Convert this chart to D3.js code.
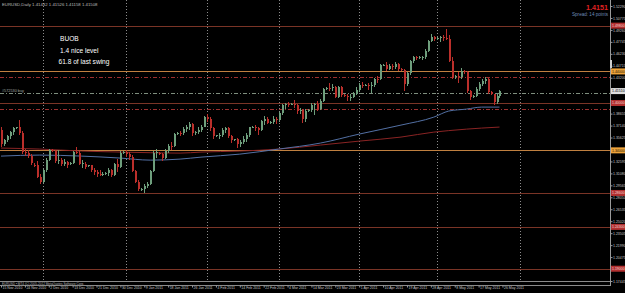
<!DOCTYPE html>
<html><head><meta charset="utf-8">
<script src="https://cdn.jsdelivr.net/npm/d3@7"></script>
<style>html,body{margin:0;padding:0;background:#000;overflow:hidden}svg{display:block}</style>
</head><body>
<svg id="c" width="625" height="293"></svg>
<script>
// ---- data (EURUSD daily) ----
const openP = [
1.3655,1.3480,1.3530,1.3580,1.3630,1.3680,1.3690,1.3620,1.3380,1.3370,
1.3330,1.3220,1.3210,1.3060,1.3000,1.3150,1.3280,1.3410,1.3390,1.3260,
1.3280,1.3230,1.3250,1.3230,1.3240,1.3380,1.3370,1.3230,1.3230,1.3200,
1.3210,1.3150,1.3120,1.3100,1.3090,1.3100,1.3110,1.3150,1.3090,1.3230,
1.3190,1.3370,1.3380,1.3360,1.3320,1.3140,1.3000,1.2900,1.2910,1.2950,
1.2970,1.3140,1.3370,1.3370,1.3350,1.3300,1.3390,1.3460,1.3455,1.3610,
1.3620,1.3615,1.3670,1.3690,1.3740,1.3620,1.3630,1.3660,1.3700,1.3820,
1.3800,1.3680,1.3580,1.3590,1.3595,1.3660,1.3680,1.3580,1.3530,1.3540,
1.3480,1.3500,1.3550,1.3590,1.3690,1.3700,1.3680,1.3660,1.3770,1.3800,
1.3750,1.3760,1.3800,1.3780,1.3870,1.3980,1.3990,1.3975,1.3985,1.3970,
1.3900,1.3910,1.3800,1.3900,1.3910,1.3980,1.3990,1.3920,1.4030,1.4180,
1.4190,1.4185,1.4200,1.4080,1.4200,1.4100,1.4090,1.4070,1.4080,1.4120,
1.4160,1.4230,1.4215,1.4230,1.4220,1.4225,1.4310,1.4300,1.4480,1.4485,
1.4430,1.4470,1.4450,1.4500,1.4430,1.4420,1.4240,1.4380,1.4530,1.4580,
1.4570,1.4580,1.4585,1.4660,1.4790,1.4830,1.4810,1.4820,1.4835,1.4825,
1.4815,1.4530,1.4330,1.4340,1.4335,1.4410,1.4390,1.4150,1.4070,1.4090,
1.4180,1.4240,1.4280,1.4300,1.4140,1.4110,1.4010,1.4090];
const highP = [
1.3690,1.3545,1.3600,1.3650,1.3700,1.3700,1.3785,1.3640,1.3420,1.3400,
1.3350,1.3240,1.3260,1.3100,1.3160,1.3300,1.3420,1.3420,1.3400,1.3400,
1.3300,1.3290,1.3270,1.3250,1.3390,1.3440,1.3390,1.3280,1.3250,1.3220,
1.3220,1.3180,1.3150,1.3150,1.3120,1.3120,1.3170,1.3160,1.3240,1.3290,
1.3390,1.3390,1.3400,1.3380,1.3340,1.3150,1.3030,1.2920,1.2970,1.3000,
1.3150,1.3390,1.3420,1.3380,1.3370,1.3420,1.3480,1.3500,1.3620,1.3630,
1.3650,1.3690,1.3720,1.3760,1.3750,1.3640,1.3690,1.3720,1.3840,1.3860,
1.3820,1.3690,1.3600,1.3620,1.3680,1.3700,1.3690,1.3600,1.3550,1.3560,
1.3530,1.3580,1.3620,1.3700,1.3710,1.3720,1.3700,1.3790,1.3830,1.3820,
1.3770,1.3830,1.3820,1.3890,1.3990,1.4000,1.4010,1.3995,1.4035,1.3990,
1.3940,1.3920,1.3920,1.3920,1.4000,1.4000,1.4030,1.4050,1.4190,1.4200,
1.4250,1.4240,1.4220,1.4210,1.4210,1.4110,1.4110,1.4110,1.4140,1.4200,
1.4250,1.4260,1.4240,1.4250,1.4260,1.4320,1.4340,1.4490,1.4490,1.4520,
1.4500,1.4490,1.4520,1.4510,1.4440,1.4430,1.4390,1.4540,1.4600,1.4600,
1.4590,1.4600,1.4680,1.4800,1.4880,1.4850,1.4830,1.4850,1.4860,1.4940,
1.4860,1.4580,1.4350,1.4390,1.4440,1.4420,1.4400,1.4170,1.4100,1.4200,
1.4260,1.4300,1.4330,1.4320,1.4150,1.4120,1.4110,1.4170];
const lowP = [
1.3440,1.3450,1.3500,1.3550,1.3600,1.3670,1.3590,1.3360,1.3330,1.3300,
1.3220,1.3190,1.3050,1.2968,1.2990,1.3130,1.3260,1.3380,1.3240,1.3230,
1.3200,1.3200,1.3180,1.3220,1.3230,1.3360,1.3210,1.3180,1.3160,1.3190,
1.3120,1.3090,1.3060,1.3070,1.3070,1.3090,1.3080,1.3060,1.3080,1.3130,
1.3180,1.3360,1.3320,1.3280,1.3120,1.2990,1.2880,1.2890,1.2860,1.2920,
1.2960,1.3120,1.3300,1.3340,1.3260,1.3290,1.3370,1.3400,1.3440,1.3600,
1.3580,1.3600,1.3630,1.3660,1.3580,1.3600,1.3610,1.3630,1.3690,1.3760,
1.3650,1.3540,1.3570,1.3540,1.3570,1.3620,1.3560,1.3490,1.3520,1.3430,
1.3440,1.3480,1.3510,1.3570,1.3680,1.3640,1.3600,1.3640,1.3720,1.3730,
1.3740,1.3740,1.3740,1.3760,1.3850,1.3930,1.3950,1.3970,1.3940,1.3860,
1.3860,1.3750,1.3760,1.3890,1.3880,1.3850,1.3900,1.3910,1.4010,1.4170,
1.4150,1.4150,1.4060,1.4060,1.4080,1.4080,1.4030,1.4030,1.4060,1.4100,
1.4140,1.4190,1.4210,1.4160,1.4130,1.4200,1.4250,1.4290,1.4470,1.4410,
1.4420,1.4420,1.4430,1.4410,1.4410,1.4150,1.4220,1.4360,1.4510,1.4540,
1.4560,1.4540,1.4560,1.4640,1.4770,1.4780,1.4800,1.4770,1.4790,1.4800,
1.4520,1.4310,1.4310,1.4250,1.4310,1.4370,1.4130,1.4040,1.4060,1.4080,
1.4150,1.4210,1.4240,1.4120,1.4100,1.3980,1.3990,1.4060];
const closeP = [
1.3480,1.3530,1.3580,1.3630,1.3680,1.3690,1.3620,1.3380,1.3370,1.3330,
1.3240,1.3210,1.3060,1.3000,1.3150,1.3280,1.3400,1.3390,1.3260,1.3280,
1.3230,1.3250,1.3220,1.3240,1.3380,1.3370,1.3230,1.3235,1.3190,1.3210,
1.3150,1.3120,1.3100,1.3090,1.3100,1.3110,1.3150,1.3090,1.3230,1.3190,
1.3370,1.3380,1.3360,1.3320,1.3140,1.3000,1.2910,1.2910,1.2950,1.2970,
1.3140,1.3370,1.3380,1.3350,1.3300,1.3390,1.3460,1.3455,1.3610,1.3620,
1.3615,1.3670,1.3690,1.3740,1.3620,1.3630,1.3660,1.3700,1.3820,1.3800,
1.3680,1.3580,1.3590,1.3595,1.3660,1.3680,1.3580,1.3530,1.3540,1.3480,
1.3500,1.3550,1.3590,1.3690,1.3700,1.3680,1.3660,1.3770,1.3800,1.3750,
1.3760,1.3800,1.3780,1.3870,1.3980,1.3990,1.3975,1.3985,1.3970,1.3900,
1.3910,1.3800,1.3900,1.3910,1.3980,1.3990,1.3920,1.4030,1.4180,1.4190,
1.4185,1.4200,1.4080,1.4200,1.4100,1.4090,1.4070,1.4080,1.4120,1.4160,
1.4230,1.4215,1.4230,1.4220,1.4225,1.4310,1.4300,1.4480,1.4485,1.4430,
1.4470,1.4450,1.4500,1.4430,1.4420,1.4240,1.4380,1.4530,1.4580,1.4570,
1.4580,1.4585,1.4660,1.4790,1.4830,1.4810,1.4820,1.4835,1.4825,1.4815,
1.4530,1.4330,1.4340,1.4335,1.4410,1.4390,1.4150,1.4070,1.4090,1.4180,
1.4240,1.4280,1.4300,1.4140,1.4110,1.4010,1.4090,1.4151];

// moving averages sampled at these bars
const maBars = [0,13,27,40,50,60,67,80,93,107,120,134,145,150,156,161,167];
const maBlue = [1.3327,1.3340,1.3327,1.3302,1.3276,1.3289,1.3314,1.3352,1.3416,1.3492,1.3606,1.3720,1.3821,1.3898,1.3923,1.3948,1.3948];
const maRed  = [1.3429,1.3416,1.3391,1.3378,1.3370,1.3365,1.3378,1.3391,1.3416,1.3467,1.3517,1.3568,1.3631,1.3650,1.3669,1.3682,1.3695];

const priceTicks = [1.52290,1.50775,1.49260,1.47745,1.46230,1.44715,1.43200,1.41685,1.40170,1.38655,1.37140,1.35625,
  1.34110,1.32595,1.31080,1.29565,1.28050,1.26535,1.25020,1.23505,1.21990,1.20475,1.18960,1.17445];
const dateTickBars = [0,8,16,24,32,40,48,56,64,72,80,88,96,104,112,120,128,136,144,152,160,168];
const dateTickLabels = ["15 Nov 2010","24 Nov 2010","2 Dec 2010","13 Dec 2010","21 Dec 2010","30 Dec 2010","9 Jan 2011",
  "18 Jan 2011","26 Jan 2011","4 Feb 2011","14 Feb 2011","22 Feb 2011","4 Mar 2011","14 Mar 2011","23 Mar 2011",
  "1 Apr 2011","10 Apr 2011","19 Apr 2011","28 Apr 2011","8 May 2011","17 May 2011","26 May 2011"];
const monthStartBars = [14,42,69,93,120,146,174];

const levelPrices = [1.4980,1.4400,1.4330,1.4130,1.4000,1.3930,1.3400,1.2860,1.2430,1.1900];
const levelTypes  = ["sr","fibo","dash","order","sr","dash","fibo","sr","sr","sr"];
const lastPrice = 1.4151;
const spreadPoints = 14;
const headerText = "EURUSD,Daily  1.41432 1.41526 1.41158 1.41508";
const orderText = "#572530 buy";
const notes = ["BUOB","1.4 nice level","61.8 of last swing"];
const footerText = "EURUSD • MT4  (C) 2005-2012 MetaQuotes Software Corp.";

// ---- drawing ----
const W = 625, H = 293, plotR = 610, plotB = 281;
const svg = d3.select("#c");
svg.append("rect").attr("width",W).attr("height",H).attr("fill","#000");

const x = d3.scaleLinear().domain([0,168]).range([1, 1 + 168*2.985]);
const y = d3.scaleLinear().domain([1.17445,1.52290]).range([281,6]);

const font = "'Liberation Sans', Arial, sans-serif";
const plot = svg.append("g");

// month grid
plot.selectAll("line.grid").data(monthStartBars).join("line")
  .attr("x1",d=>Math.round(x(d))+0.5).attr("x2",d=>Math.round(x(d))+0.5)
  .attr("y1",0).attr("y2",plotB)
  .attr("stroke","#8c8c8c").attr("stroke-width",1).attr("stroke-dasharray","1,2");

// horizontal levels
const levelStyle = {
  sr:   {c:"#7a3426", dash:null},
  fibo: {c:"#c08040", dash:null},
  dash: {c:"#9c3030", dash:"4,2,1,2"},
  order:{c:"#7e8e7e", dash:"4,2,1,2"}
};
plot.selectAll("line.lvl").data(levelPrices).join("line")
  .attr("x1",0).attr("x2",plotR)
  .attr("y1",d=>Math.round(y(d))+0.5).attr("y2",d=>Math.round(y(d))+0.5)
  .attr("stroke",(d,i)=>levelStyle[levelTypes[i]].c)
  .attr("stroke-width",1)
  .attr("stroke-dasharray",(d,i)=>levelStyle[levelTypes[i]].dash);

// moving averages
const maLine = d3.line().x((d,i)=>x(maBars[i])).y(d=>y(d)).curve(d3.curveMonotoneX);
plot.append("path").attr("d",maLine(maRed)).attr("fill","none").attr("stroke","#8a2424").attr("stroke-width",1);
plot.append("path").attr("d",maLine(maBlue)).attr("fill","none").attr("stroke","#5370a4").attr("stroke-width",1);

// candles
const bull = "#6e9e7c", bear = "#bb2f2b";
const idx = d3.range(openP.length);
const cg = plot.append("g").attr("shape-rendering","crispEdges");
cg.selectAll("line.w").data(idx).join("line")
  .attr("x1",i=>Math.round(x(i))+0.5).attr("x2",i=>Math.round(x(i))+0.5)
  .attr("y1",i=>y(highP[i])).attr("y2",i=>y(lowP[i]))
  .attr("stroke",i=>closeP[i]>=openP[i]?bull:bear).attr("stroke-width",1);
cg.selectAll("rect.b").data(idx).join("rect")
  .attr("x",i=>Math.round(x(i))-0.5).attr("width",2)
  .attr("y",i=>y(Math.max(openP[i],closeP[i])))
  .attr("height",i=>Math.max(1, Math.abs(y(openP[i])-y(closeP[i]))))
  .attr("fill",i=>closeP[i]>=openP[i]?bull:bear);

// texts
svg.append("text").attr("x",2).attr("y",5.5).text(headerText)
  .attr("font-family",font).attr("font-size",4.3).attr("fill","#bdbdbd");
svg.append("text").attr("x",2).attr("y",y(levelPrices[3])-0.8).text(orderText)
  .attr("font-family",font).attr("font-size",3.8).attr("fill","#a0a8a0");
svg.selectAll("text.note").data(notes).join("text")
  .attr("x",(d,i)=>i===2?58.5:60).attr("y",(d,i)=>41+i*11.7).text(d=>d)
  .attr("font-family",font).attr("font-size",6.6).attr("fill","#ffffff");
svg.append("text").attr("x",608).attr("y",9.8).attr("text-anchor","end").text(d3.format(".4f")(lastPrice))
  .attr("font-family",font).attr("font-size",7.2).attr("font-weight","bold").attr("fill","#e02222");
svg.append("text").attr("x",608).attr("y",16).attr("text-anchor","end").text("Spread: "+spreadPoints+" points")
  .attr("font-family",font).attr("font-size",4.6).attr("fill","#6d8bb8");

// bottom frame
svg.append("line").attr("x1",0).attr("x2",plotR).attr("y1",281.5).attr("y2",281.5).attr("stroke","#8a8a8a");
svg.append("line").attr("x1",0).attr("x2",plotR).attr("y1",285.5).attr("y2",285.5).attr("stroke","#8a8a8a");
svg.append("text").attr("x",2).attr("y",284.6).text(footerText)
  .attr("font-family",font).attr("font-size",3.1).attr("fill","#b0b0b0");

// price axis
const yAxis = d3.axisRight(y).tickValues(priceTicks).tickFormat(d3.format(".5f")).tickSize(2).tickPadding(0.5);
const ya = svg.append("g").attr("transform",`translate(${plotR+0.5},0)`).call(yAxis);
ya.select(".domain").attr("stroke","#9a9a9a").attr("d","M0,0V286");
ya.selectAll(".tick line").attr("stroke","#9a9a9a");
ya.selectAll(".tick text").attr("fill","#c4c4c4").attr("font-family",font).attr("font-size",3.5);
svg.append("rect").attr("x",610).attr("y",60).attr("width",2).attr("height",8).attr("fill","#cfcfcf");

// time axis
const xAxis = d3.axisBottom(x).tickValues(dateTickBars).tickFormat((d,i)=>dateTickLabels[i]).tickSize(2).tickPadding(1);
const xa = svg.append("g").attr("transform","translate(0,285.5)").call(xAxis);
xa.select(".domain").remove();
xa.selectAll(".tick line").attr("stroke","#9a9a9a");
xa.selectAll(".tick text").attr("fill","#c4c4c4").attr("font-family",font).attr("font-size",3.5)
  .attr("text-anchor","start").attr("dx",1).attr("dy","0.2em");

// level boxes on price axis
const boxData = levelPrices.map((p,i)=>({p, t:levelTypes[i]})).filter(d=>d.t==="sr"||d.t==="fibo");
boxData.push({p:lastPrice, t:"last"});
const boxFill = {sr:"#b23030", fibo:"#eea33a", last:"#dedede"};
const boxText = {sr:"#f0d0d0", fibo:"#201000", last:"#000"};
const bg = svg.append("g");
bg.selectAll("rect").data(boxData).join("rect")
  .attr("x",611).attr("width",14).attr("y",d=>y(d.p)-3).attr("height",6)
  .attr("fill",d=>boxFill[d.t]);
bg.selectAll("text").data(boxData).join("text")
  .attr("x",612).attr("y",d=>y(d.p)+1.3).text(d=>d3.format(".5f")(d.p))
  .attr("font-family",font).attr("font-size",3.5).attr("fill",d=>boxText[d.t]);
</script>
</body></html>
